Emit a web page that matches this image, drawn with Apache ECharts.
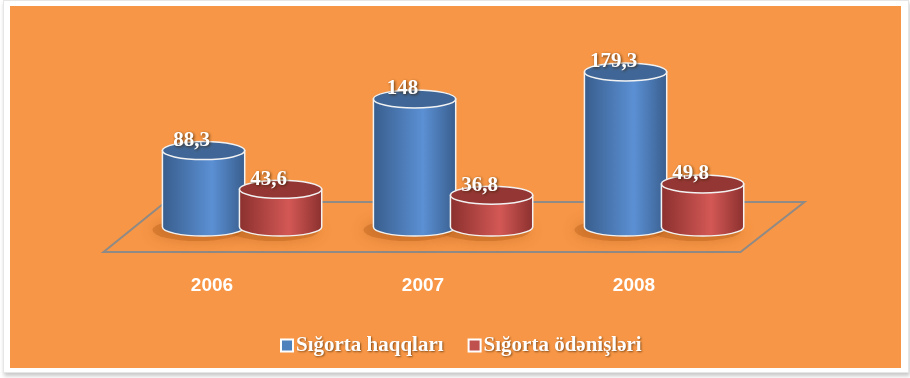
<!DOCTYPE html>
<html>
<head>
<meta charset="utf-8">
<script src="https://cdn.jsdelivr.net/npm/echarts@6/dist/echarts.min.js"></script>
<style>
  html, body { margin: 0; padding: 0; background: #ffffff; }
  #card { position: absolute; left: 3px; top: 0; width: 904px; height: 371px; background: #fff;
          border: 1px solid #e6e6e6; box-shadow: 1px 3px 4px rgba(0,0,0,0.22); }
  #panel { position: absolute; left: 10px; top: 6px; width: 891px; height: 362px; background: #F79646; }
  #chart { position: absolute; left: 0; top: 0; width: 910px; height: 378px; }
</style>
</head>
<body>
<div id="card"></div>
<div id="panel"></div>
<div id="chart"></div>
<script>
//--------------------- Data ---------------------------//
const years = ['2006', '2007', '2008'];
const haqqlari = [88.3, 148, 179.3];
const odenisleri = [43.6, 36.8, 49.8];
const seriesNames = ['Sığorta haqqları', 'Sığorta ödənişləri'];

//--------------------- Styles ---------------------------//
const palette = [
  { legend: '#4F81BD', dark: '#385d8c', light: '#5b90d4', top: '#3f6696' },
  { legend: '#C0504D', dark: '#8a302e', light: '#d35855', top: '#943634' }
];

// Cylinder path: body from top ellipse down to front half of bottom ellipse
function bodyPath(cx, yt, yb, rx, ry) {
  return 'M' + (cx - rx) + ',' + yt +
    ' L' + (cx - rx) + ',' + yb +
    ' A' + rx + ',' + ry + ' 0 0 0 ' + (cx + rx) + ',' + yb +
    ' L' + (cx + rx) + ',' + yt + ' Z';
}

function ellipsePath(cx, cy, rx, ry) {
  return 'M' + (cx - rx) + ',' + cy +
    ' A' + rx + ',' + ry + ' 0 1 0 ' + (cx + rx) + ',' + cy +
    ' A' + rx + ',' + ry + ' 0 1 0 ' + (cx - rx) + ',' + cy + ' Z';
}

// Build a renderItem for one series (shift = offset of the cylinder within the band)
function makeRender(k, shift) {
  const c = palette[k];
  return function (params, api) {
    const idx = api.value(0);
    const val = api.value(1);
    const band = api.size([1, 0])[0];
    const base = api.coord([idx, 0]);
    const top = api.coord([idx, val]);
    const cx = base[0] + band * shift;
    const rx = band * 0.195;
    const ry = 9;
    const yb = base[1];
    const yt = top[1];
    const zb = k * 20;
    const children = [];

    // floor drawn once with the first series
    if (k === 0 && params.dataIndex === 0) {
      const g = params.coordSys;
      const y0 = base[1];
      children.push({
        type: 'polygon',
        z2: -10,
        shape: { points: [
          [g.x - 3, y0 + 25], [g.x + g.width + 1, y0 + 25],
          [g.x + g.width + 65, y0 - 25], [g.x + 59, y0 - 25]
        ] },
        style: { fill: 'none', stroke: '#8f8a86', lineWidth: 2 }
      });
    }

    // soft shadow under the cylinder
    children.push({
      type: 'path',
      z2: -5,
      shape: { pathData: ellipsePath(cx - 6, yb + 3, rx + 4, ry + 2) },
      style: { fill: 'rgba(175,90,20,0.35)', shadowBlur: 14, shadowColor: 'rgba(140,60,0,0.75)' }
    });

    children.push({
      type: 'path',
      z2: zb + 1,
      shape: { pathData: bodyPath(cx, yt, yb, rx, ry) },
      style: {
        fill: new echarts.graphic.LinearGradient(0, 0, 1, 0, [
          { offset: 0, color: c.dark },
          { offset: 0.6, color: c.light },
          { offset: 1, color: c.dark }
        ]),
        stroke: '#f2f2f2', lineWidth: 1.5
      }
    });

    children.push({
      type: 'path',
      z2: zb + 2,
      shape: { pathData: ellipsePath(cx, yt, rx, ry) },
      style: { fill: c.top, stroke: '#f2f2f2', lineWidth: 1.5 }
    });

    children.push({
      type: 'text',
      z2: zb + 3,
      style: {
        text: String(val).replace('.', ','),
        x: cx - 12, y: yt - 10,
        align: 'center', verticalAlign: 'middle',
        fill: '#ffffff',
        font: 'bold 21px "Liberation Serif", serif',
        textShadowColor: 'rgba(60,30,0,0.8)', textShadowBlur: 3,
        textShadowOffsetX: 1, textShadowOffsetY: 1
      }
    });

    return { type: 'group', children: children };
  };
}

//--------------------- Chart ---------------------------//
const chartDom = document.getElementById('chart');
const myChart = echarts.init(chartDom);

const option = {
  backgroundColor: 'transparent',
  animation: false,
  grid: { left: 106.5, right: 170.5, top: 54, bottom: 151 },
  legend: {
    data: seriesNames,
    left: 275, top: 330,
    icon: 'rect',
    itemWidth: 12, itemHeight: 12,
    itemGap: 24,
    textStyle: {
      color: '#ffffff', fontSize: 21, fontWeight: 'bold',
      fontFamily: '"Liberation Serif", serif', padding: [0, 0, 0, -2],
      textShadowColor: 'rgba(60,30,0,0.6)', textShadowBlur: 2,
      textShadowOffsetX: 1, textShadowOffsetY: 1
    }
  },
  xAxis: {
    type: 'category',
    data: years,
    axisLine: { show: false },
    axisTick: { show: false },
    axisLabel: {
      margin: 49, color: '#ffffff', fontSize: 19, fontWeight: 'bold',
      fontFamily: '"Liberation Sans", sans-serif'
    }
  },
  yAxis: {
    type: 'value', min: 0, max: 200,
    show: false, splitLine: { show: false }
  },
  series: [
    {
      name: seriesNames[0],
      type: 'custom',
      renderItem: makeRender(0, -0.04),
      itemStyle: { color: palette[0].legend, borderColor: '#ffffff', borderWidth: 1.5 },
      data: haqqlari.map((v, i) => [i, v])
    },
    {
      name: seriesNames[1],
      type: 'custom',
      renderItem: makeRender(1, 0.325),
      itemStyle: { color: palette[1].legend, borderColor: '#ffffff', borderWidth: 1.5 },
      data: odenisleri.map((v, i) => [i, v])
    }
  ]
};

option && myChart.setOption(option);
</script>
</body>
</html>
